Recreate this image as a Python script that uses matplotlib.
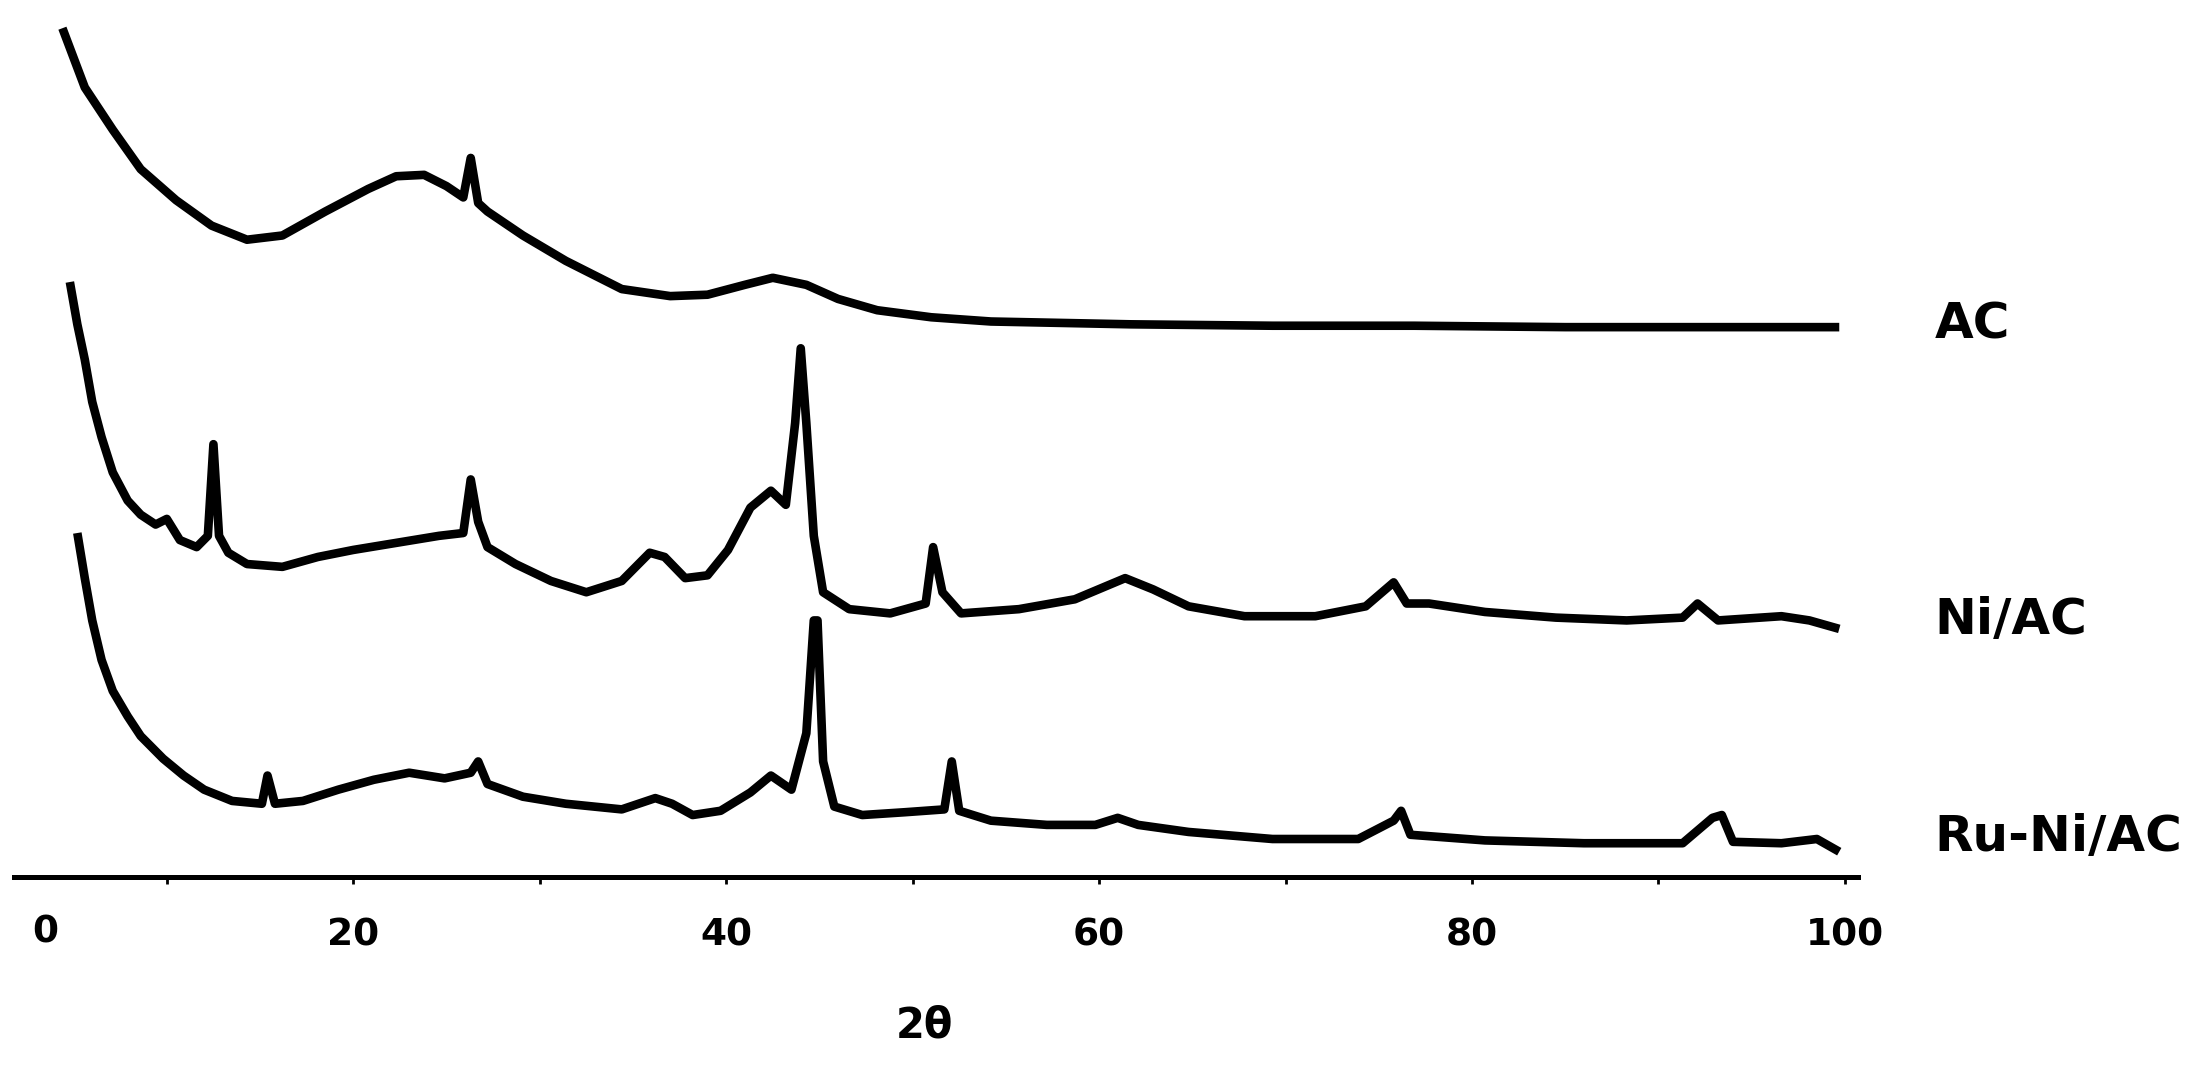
import numpy as np
import matplotlib
matplotlib.use('Agg')
import matplotlib.pyplot as plt
import matplotlib.transforms as mtrans

# 2theta (deg) / intensity (arb. units, stacked)
ac_x = [4.4, 5.6, 7.1, 8.6, 10.5, 12.4, 14.3, 16.2, 18.5, 20.8, 22.3, 23.8, 25.0, 25.9,
        26.3, 26.7, 27.2, 29.1, 31.4, 34.4, 37.0, 39.0, 41.0, 42.5, 44.3, 46.0, 48.1,
        51.0, 54.2, 61.7, 69.3, 76.9, 85.0, 99.7]
ac_y = [602, 560, 530, 502, 480, 462, 452, 455, 472, 488, 497, 498, 490, 482,
        510, 478, 472, 455, 437, 417, 412, 413, 420, 425, 420, 410, 402,
        397, 394, 392, 391, 391, 390, 390]

ni_x = [4.8, 5.2, 5.6, 6.0, 6.5, 7.1, 7.9, 8.6, 9.4, 10.0, 10.7, 11.6, 12.2, 12.5, 12.8,
        13.3, 14.3, 16.2, 18.1, 20.0, 22.3, 24.6, 25.9, 26.3, 26.7, 27.2, 28.7, 30.6,
        32.5, 34.4, 35.9, 36.7, 37.8, 39.0, 40.1, 41.3, 42.4, 43.2, 43.7, 44.0, 44.3,
        44.7, 45.2, 46.6, 48.8, 50.7, 51.1, 51.6, 52.6, 55.7, 58.7, 61.4, 62.9, 64.8,
        67.8, 71.6, 74.3, 75.8, 76.5, 77.7, 80.7, 84.5, 88.3, 91.3, 92.1, 93.2, 96.6,
        98.1, 99.7]
ni_y = [422, 392, 367, 337, 312, 287, 267, 257, 250, 254, 239, 234, 242, 307, 242,
        230, 222, 220, 227, 232, 237, 242, 244, 282, 252, 234, 222, 210,
        202, 210, 230, 227, 212, 214, 232, 262, 274, 264, 322, 375, 322,
        242, 202, 190, 187, 194, 234, 202, 187, 190, 197, 212, 204, 192,
        185, 185, 192, 209, 194, 194, 188, 184, 182, 184, 194, 182, 185,
        182, 176]

runi_x = [5.2, 5.6, 6.0, 6.5, 7.1, 7.9, 8.6, 9.8, 10.9, 12.0, 13.5, 15.1, 15.4, 15.8,
          17.3, 19.2, 21.1, 23.0, 24.9, 26.3, 26.7, 27.2, 29.1, 31.4, 34.4, 36.2, 37.1,
          38.2, 39.7, 41.3, 42.4, 43.5, 44.3, 44.7, 44.9, 45.2, 45.8, 47.3, 49.6, 51.7,
          52.1, 52.5, 54.2, 57.2, 59.8, 61.0, 62.1, 64.8, 69.3, 73.9, 75.8, 76.2, 76.7,
          80.7, 86.0, 91.3, 92.9, 93.4, 94.0, 96.6, 98.5, 99.7]
runi_y = [244, 212, 182, 154, 132, 114, 100, 84, 72, 62, 54, 52, 72, 52,
          54, 62, 69, 74, 70, 74, 82, 66, 57, 52, 48, 56, 52,
          44, 47, 60, 72, 62, 102, 182, 182, 82, 50, 44, 46, 48,
          82, 47, 40, 37, 37, 42, 37, 32, 27, 27, 40, 47, 30,
          26, 24, 24, 42, 44, 25, 24, 27, 18]

samples = ['AC', 'Ni/AC', 'Ru-Ni/AC']
label_y = [0.696, 0.419, 0.216]

fig = plt.figure(figsize=(22.11, 10.67), dpi=100)
ax = fig.add_axes([0.0063, 0.178, 0.834, 0.822])

for xs, ys in [(ac_x, ac_y), (ni_x, ni_y), (runi_x, runi_y)]:
    ax.plot(xs, ys, color='black', lw=6.2, solid_joinstyle='round', solid_capstyle='butt')

ax.set_xlim(1.8, 100.7)
ax.set_ylim(0, 622)
for s in ['top', 'right', 'left']:
    ax.spines[s].set_visible(False)
ax.spines['bottom'].set_linewidth(3.6)
ax.set_yticks([])
ax.set_xticks(np.arange(10, 101, 10))
ax.set_xticklabels(['' if t % 20 else str(t) for t in range(10, 101, 10)])
ax.tick_params(axis='x', direction='out', length=5, width=2, pad=24,
               labelsize=27)
for lab in ax.get_xticklabels():
    lab.set_fontweight('bold')

# the "0" label sits off the tick grid in the original
trans = mtrans.blended_transform_factory(ax.transData, fig.transFigure)
ax.text(3.5, 0.126, '0', transform=trans, ha='center', va='center',
        fontsize=27, fontweight='bold', clip_on=False)

fig.text(0.418, 0.039, '2θ', ha='center', va='center', fontsize=30, fontweight='bold')

for name, yy in zip(samples, label_y):
    fig.text(0.875, yy, name, ha='left', va='center', fontsize=36, fontweight='bold')

plt.savefig('out.png', dpi=100)
